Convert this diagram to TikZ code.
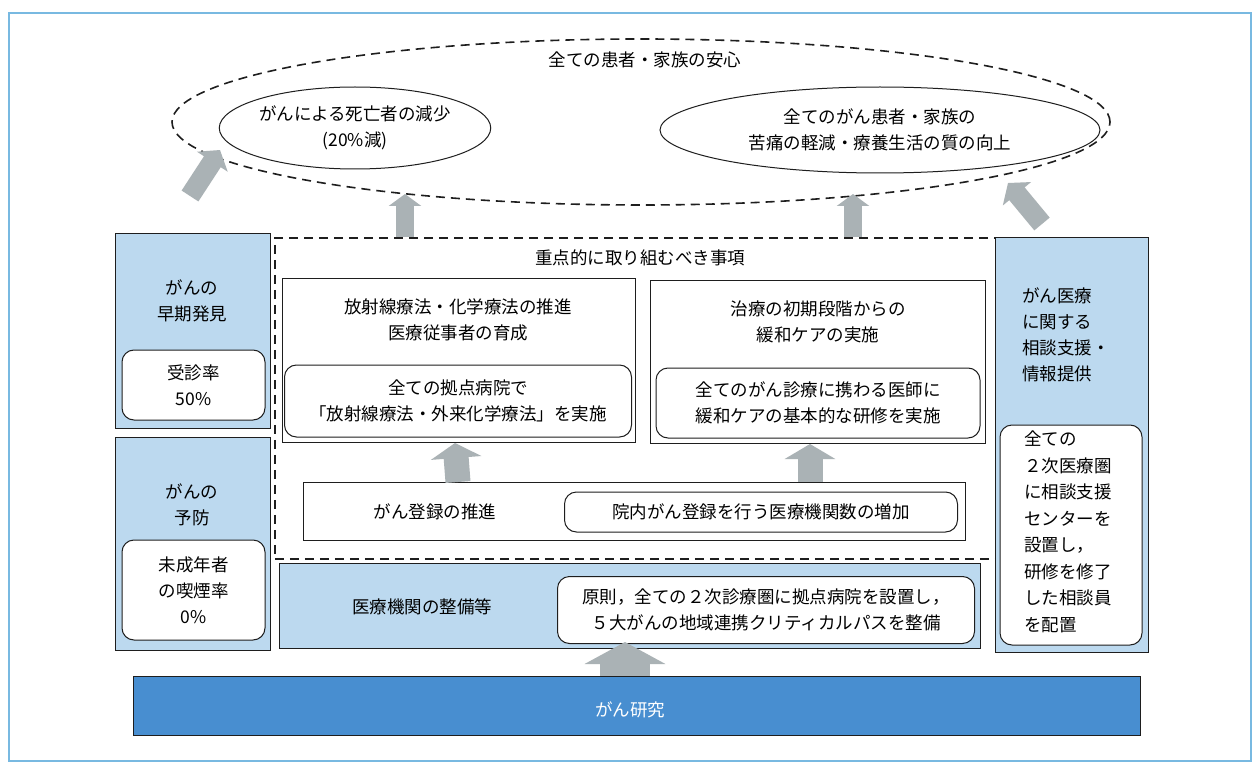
\documentclass[tikz,border=0pt]{standalone}
\usepackage{fontspec}
\setmainfont{Noto Sans CJK JP}
\usetikzlibrary{shapes.geometric,arrows.meta}
\definecolor{framec}{RGB}{120,185,225}
\definecolor{lblue}{RGB}{188,217,239}
\definecolor{dblue}{RGB}{72,142,208}
\definecolor{arrowc}{RGB}{170,178,181}
\definecolor{linec}{RGB}{30,30,30}
\tikzset{
  box/.style={draw=linec, line width=1.3pt, anchor=north west, inner sep=0pt},
  bluebox/.style={box, fill=lblue},
  whitebox/.style={box, fill=white},
  rbox/.style={draw=linec, line width=1pt, fill=white, rounded corners=12pt, inner sep=0pt, align=center},
  txt/.style={align=center, inner sep=0pt},
  dashline/.style={draw=linec, line width=1.6pt, dash pattern=on 9pt off 6pt},
  barrow/.style={draw=arrowc, line width=#1},
}
\begin{document}
\begin{tikzpicture}[x=1pt,y=-1pt,font=\fontsize{17.5}{26}\selectfont]
\useasboundingbox (0,0) rectangle (1255,770);
\fill[white] (0,0) rectangle (1255,770);
\node[draw=framec, line width=2pt, anchor=north west, minimum width=1242pt, minimum height=748pt, inner sep=0pt] (frame) at (8,12) {};

% goal ellipses
\node[ellipse, dashline, minimum width=938pt, minimum height=166pt, inner sep=0pt] (goal) at (641,122) {};
\node[txt] (goalt) at (645,60) {全ての患者・家族の安心};
\node[ellipse, draw=linec, line width=1pt, minimum width=248pt, minimum height=82pt, inner sep=0pt, align=center] (e1) at (355,128) {がんによる死亡者の減少\\(20\%減)};
\node[ellipse, draw=linec, line width=1pt, minimum width=440pt, minimum height=86pt, inner sep=0pt, align=center] (e2) at (880,130) {全てのがん患者・家族の\\苦痛の軽減・療養生活の質の向上};

% left column
\node[bluebox, minimum width=155pt, minimum height=195pt] (early) at (115,233) {};
\node[txt] (earlyt) at (192,301) {がんの\\早期発見};
\node[rbox, minimum width=143pt, minimum height=70pt] (earlyi) at (193.5,385) {受診率\\50\%};
\node[bluebox, minimum width=155pt, minimum height=213pt] (prev) at (115,437) {};
\node[txt] (prevt) at (192,505) {がんの\\予防};
\node[rbox, minimum width=143pt, minimum height=100pt] (previ) at (193.5,590) {未成年者\\の喫煙率\\0\%};

% focus area
\node[dashline, anchor=north west, minimum width=721pt, minimum height=321pt, inner sep=0pt] (focus) at (274,237) {};
\node[txt] (focust) at (640,258) {重点的に取り組むべき事項};

\node[whitebox, minimum width=353pt, minimum height=164pt] (boxA) at (282,278) {};
\node[txt] (boxAt) at (458,320) {放射線療法・化学療法の推進\\医療従事者の育成};
\node[rbox, minimum width=347pt, minimum height=72pt] (boxAi) at (458,401) {全ての拠点病院で\\「放射線療法・外来化学療法」を実施};

\node[whitebox, minimum width=335pt, minimum height=163pt] (boxB) at (650,280) {};
\node[txt] (boxBt) at (818,322) {治療の初期段階からの\\緩和ケアの実施};
\node[rbox, minimum width=324pt, minimum height=70pt] (boxBi) at (818,403) {全てのがん診療に携わる医師に\\緩和ケアの基本的な研修を実施};

\node[whitebox, minimum width=662pt, minimum height=58pt] (reg) at (303,482) {};
\node[txt] (regt) at (435,512) {がん登録の推進};
\node[rbox, minimum width=393pt, minimum height=40pt] (regi) at (761,512) {院内がん登録を行う医療機関数の増加};

% facilities
\node[bluebox, minimum width=701pt, minimum height=85pt] (fac) at (279,563) {};
\node[txt] (fact) at (422,607) {医療機関の整備等};
\node[rbox, minimum width=417pt, minimum height=67pt] (faci) at (766,610) {原則，全ての２次診療圏に拠点病院を設置し，\\５大がんの地域連携クリティカルパスを整備};

% right column
\node[bluebox, minimum width=153pt, minimum height=415pt] (cons) at (995,237) {};
\node[txt, align=left, anchor=west] (const) at (1022,335) {がん医療\\に関する\\相談支援・\\情報提供};
\node[rbox, minimum width=142pt, minimum height=220pt] (consi) at (1071,535) {};
\node[txt, align=left, anchor=west, font=\fontsize{17.5}{26.5}\selectfont] (consit) at (1024,532) {全ての\\２次医療圏\\に相談支援\\センターを\\設置し，\\研修を修了\\した相談員\\を配置};

% research bar
\node[box, fill=dblue, minimum width=1007pt, minimum height=59pt] (res) at (133,676) {};
\node[txt, text=white] (rest) at (630,710) {がん研究};

% block arrows
\coordinate (a1s) at (190,196); \coordinate (a1e) at (220,150);
\coordinate (a2s) at (405,237); \coordinate (a2e) at (405,194);
\coordinate (a3s) at (853,237); \coordinate (a3e) at (853,194);
\coordinate (a4s) at (1042,224); \coordinate (a4e) at (1008,183);
\draw[barrow=20pt, -{Triangle[length=14pt,width=36pt]}] (a1s) -- (a1e);
\draw[barrow=18pt, -{Triangle[length=12pt,width=32pt]}] (a2s) -- (a2e);
\draw[barrow=18pt, -{Triangle[length=12pt,width=32pt]}] (a3s) -- (a3e);
\draw[barrow=20pt, -{Triangle[length=14pt,width=36pt]}] (a4s) -- (a4e);
\draw[barrow=25pt, -{Triangle[length=15pt,width=50pt]}] (reg.north -| boxAt) ++(0,0) coordinate (a5s) -- (455,443) coordinate (a5e);
\draw[barrow=25pt, -{Triangle[length=15pt,width=50pt]}] (810,482) coordinate (a6s) -- (810,444) coordinate (a6e);
\draw[barrow=50pt, -{Triangle[length=22pt,width=80pt]}] (625,676) coordinate (a7s) -- (625,642) coordinate (a7e);
\end{tikzpicture}
\end{document}
